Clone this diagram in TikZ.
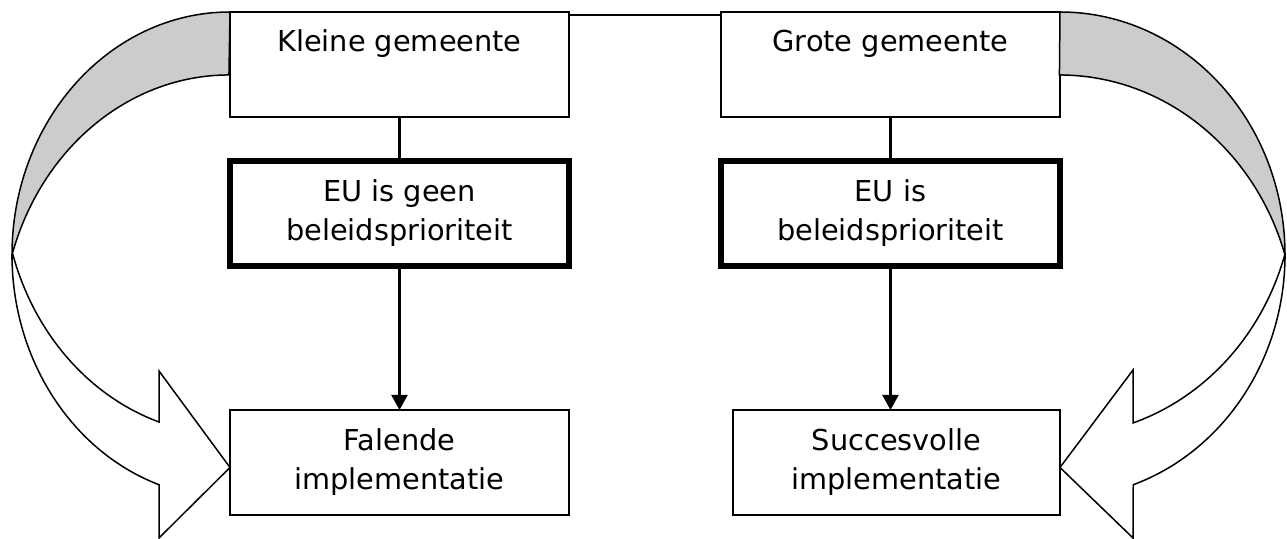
\documentclass[tikz,border=0pt]{standalone}
\usepackage{fontspec}
\setmainfont{DejaVu Sans}
\usetikzlibrary{arrows.meta,positioning}

\begin{document}
\begin{tikzpicture}[
    x=0.5pt, y=0.5pt,
    node distance=22pt,
    basebox/.style={rectangle, draw=black, line width=0.7pt, inner sep=0pt, outer sep=0pt, minimum width=169.5pt, minimum height=52.5pt, font=\fontsize{14.4}{19.5}\selectfont, align=center},
    topbox/.style={basebox, text height=20pt, text depth=32.5pt},
    prio/.style={basebox, line width=2.8pt},
    link/.style={line width=1.1pt},
    arrow/.style={-{Triangle[width=8pt,length=7.5pt]}, line width=1.1pt},
    band/.style={draw=black, line width=0.75pt}
]
\useasboundingbox (0,0) rectangle (1287,539);

% Municipalities
\node[topbox] (small) at (399.5,474.5) {Kleine gemeente};
\node[topbox, right=76pt of small] (large) {Grote gemeente};

% Priority
\node[prio, below=of small] (nopri) {EU is geen\\beleidsprioriteit};
\node[prio, below=of large] (pri) {EU is\\beleidsprioriteit};

% Outcome
\node[basebox, below=72pt of nopri] (fail) {Falende\\implementatie};
\node[basebox, minimum width=163.5pt, below left=72pt and 0pt of pri.south east] (success) {Succesvolle\\implementatie};

% Connectors
\draw[link] ([yshift=-1.5pt]small.north east) -- ([yshift=-1.5pt]large.north west);
\draw[link] (small) -- (nopri);
\draw[link] (large) -- (pri);
\draw[arrow] (nopri) -- (fail);
\draw[arrow] (pri) -- (pri |- success.north);

% Left bent arrow
\filldraw[band, fill=gray!40] (small.north west) arc[start angle=90, end angle=180, x radius=109pt, y radius=121.5pt] coordinate (lcross)
    arc[start angle=162.9, end angle=90, x radius=113.5pt, y radius=127.5pt] -- cycle;
\filldraw[band, fill=white] (lcross) arc[start angle=180, end angle=251, x radius=109pt, y radius=121.5pt]
    -- (159,1) -- ([yshift=-2.5pt]fail.west) -- (159,168) -- (159,117)
    arc[start angle=251.8, end angle=197.1, x radius=113.5pt, y radius=127.5pt] -- cycle;

% Right bent arrow
\filldraw[band, fill=gray!40] (large.north east) arc[start angle=90, end angle=0, x radius=112.5pt, y radius=121.5pt] coordinate (rcross)
    arc[start angle=17.1, end angle=90, x radius=118pt, y radius=127.5pt] -- cycle;
\filldraw[band, fill=white] (rcross) arc[start angle=0, end angle=-71, x radius=112.5pt, y radius=121.5pt]
    -- (1133,1) -- ([yshift=-2.5pt]success.east) -- (1133,169) -- (1133,116)
    arc[start angle=-71.7, end angle=-17.1, x radius=118pt, y radius=127.5pt] -- cycle;

\end{tikzpicture}
\end{document}
